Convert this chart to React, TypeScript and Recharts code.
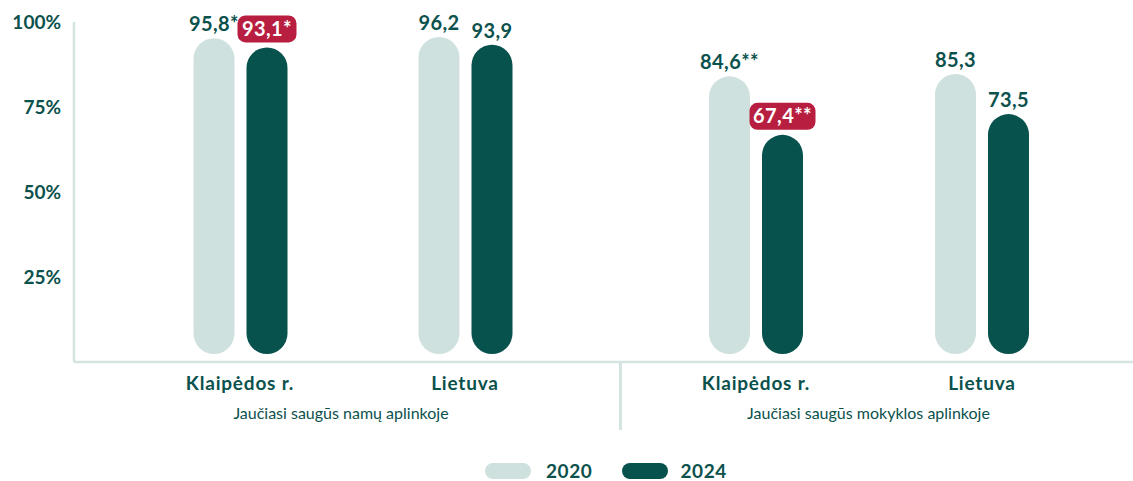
import React from 'react';
import { BarChart, Bar, XAxis, YAxis, LabelList, Label } from 'recharts';

// duomenys
const categories = ['Klaipėdos r.', 'Lietuva'];
const groupNames = ['Jaučiasi saugūs namų aplinkoje', 'Jaučiasi saugūs mokyklos aplinkoje'];
const years = ['2020', '2024'];

const home2020 = [95.8, 96.2];
const home2024 = [93.1, 93.9];
const school2020 = [84.6, 85.3];
const school2024 = [67.4, 73.5];

// žvaigždutės ir paryškinimai
const homeNotes2020 = ['*', ''];
const homeNotes2024 = ['*', ''];
const schoolNotes2020 = ['**', ''];
const schoolNotes2024 = ['**', ''];
const homeHighlight2024 = [true, false];
const schoolHighlight2024 = [true, false];

const yTicks = [25, 50, 75, 100];

const C = {
  light: '#cfe1de',
  dark: '#07524d',
  text: '#0b514c',
  red: '#b81e3f',
  axis: '#d3e4e1',
};
const FONT = 'Lato, "Noto Sans", sans-serif';
const BOLD = 700;

type Row = { name: string; v20: number; v24: number; l20: string; l24: string; hi: boolean };

const fmt = (v: number, note: string) => v.toFixed(1).replace('.', ',') + note;

const buildRows = (a: number[], b: number[], na: string[], nb: string[], hi: boolean[]): Row[] =>
  categories.map((name, i) => ({
    name,
    v20: a[i],
    v24: b[i],
    l20: fmt(a[i], na[i]),
    l24: fmt(b[i], nb[i]),
    hi: hi[i],
  }));

const homeRows = buildRows(home2020, home2024, homeNotes2020, homeNotes2024, homeHighlight2024);
const schoolRows = buildRows(school2020, school2024, schoolNotes2020, schoolNotes2024, schoolHighlight2024);

// stulpelis-piliulė, apačia pakelta virš ašies
const PillBar = (props: any) => {
  const { x, y, width, height, fill } = props;
  const h = Math.max(height - 8, width);
  return <rect x={x} y={y + 2} width={width} height={h - 2} rx={width / 2} ry={width / 2} fill={fill} />;
};

const makeLabel = (rows: Row[], highlightable: boolean) => (props: any) => {
  const { x, y, width, value, index } = props;
  const cx = x + width / 2;
  if (highlightable && rows[index] && rows[index].hi) {
    const s = String(value);
    const w = s.length * 7 + 24;
    const top = y - 30;
    return (
      <g>
        <rect x={cx - w / 2} y={top} width={w} height={27} rx={8} ry={8} fill={C.red} />
        <text x={cx} y={top + 20.5} textAnchor="middle" fontSize={20} fontWeight={BOLD} fontFamily={FONT} fill="#fff" letterSpacing={0.4}>
          {s}
        </text>
      </g>
    );
  }
  return (
    <text x={cx} y={y - 5} textAnchor="middle" fontSize={20} fontWeight={BOLD} fontFamily={FONT} fill={C.text} letterSpacing={0.4}>
      {value}
    </text>
  );
};

const CatTick = (props: any) => {
  const { x, y, payload } = props;
  return (
    <text x={x} y={y + 28} textAnchor="middle" fontSize={19} fontWeight={BOLD} fontFamily={FONT} fill={C.text} letterSpacing={0.8}>
      {payload.value}
    </text>
  );
};

const Group = ({
  rows,
  width,
  group,
  withY,
  pad,
  dx,
}: {
  rows: Row[];
  width: number;
  group: string;
  withY: boolean;
  pad: { left: number; right: number };
  dx: number;
}) => (
  <BarChart
    width={width}
    height={440}
    data={rows}
    margin={{ top: 22, right: 0, left: 0, bottom: 0 }}
    barSize={41}
    barGap={12}
  >
    <XAxis
      dataKey="name"
      height={78}
      interval={0}
      padding={pad}
      axisLine={{ stroke: C.axis, strokeWidth: 2.5 }}
      tickLine={false}
      tickSize={0}
      tickMargin={0}
      tick={<CatTick />}
    >
      <Label
        value={group}
        position="insideBottom"
        offset={21}
        dx={dx}
        style={{ fontSize: 16, fontFamily: FONT, fill: C.text }}
      />
    </XAxis>
    <YAxis
      hide={!withY}
      width={74}
      domain={[0, 100]}
      ticks={yTicks}
      tickFormatter={(v: number) => `${v}%`}
      axisLine={{ stroke: C.axis, strokeWidth: 2.5 }}
      tickLine={false}
      tickSize={0}
      tickMargin={13}
      tick={{ fontSize: 19, fontWeight: BOLD, fontFamily: FONT, fill: C.text }}
    />
    <Bar dataKey="v20" name={years[0]} fill={C.light} shape={PillBar} isAnimationActive={false}>
      <LabelList dataKey="l20" content={makeLabel(rows, false)} />
    </Bar>
    <Bar dataKey="v24" name={years[1]} fill={C.dark} shape={PillBar} isAnimationActive={false}>
      <LabelList dataKey="l24" content={makeLabel(rows, true)} />
    </Bar>
  </BarChart>
);

export default function App() {
  return (
    <div style={{ position: 'absolute', left: 0, top: 0, width: 1133, height: 481, background: '#fff', fontFamily: FONT, overflow: 'hidden' }}>
      <div style={{ position: 'absolute', left: 0, top: 0 }}>
        <Group rows={homeRows} width={620} group={groupNames[0]} withY pad={{ left: 53.5, right: 42.5 }} dx={-6} />
      </div>
      <div style={{ position: 'absolute', left: 620, top: 0 }}>
        <Group rows={schoolRows} width={513} group={groupNames[1]} withY={false} pad={{ left: 23, right: 38 }} dx={-8} />
      </div>
      {/* skirtukas tarp grupių */}
      <div style={{ position: 'absolute', left: 619, top: 362, width: 2.5, height: 68, background: C.axis }} />
      {/* legenda */}
      <div style={{ position: 'absolute', left: 485, top: 462, display: 'flex', alignItems: 'center', height: 18 }}>
        {years.map((yr, i) => (
          <div key={yr} style={{ display: 'flex', alignItems: 'center', marginRight: i === 0 ? 30 : 0 }}>
            <span style={{ display: 'inline-block', width: 46, height: 16, borderRadius: 8, background: i === 0 ? C.light : C.dark }} />
            <span style={{ marginLeft: i === 0 ? 15 : 12, fontSize: 19, fontWeight: BOLD, color: C.text, lineHeight: '18px', letterSpacing: 0.6 }}>{yr}</span>
          </div>
        ))}
      </div>
    </div>
  );
}
